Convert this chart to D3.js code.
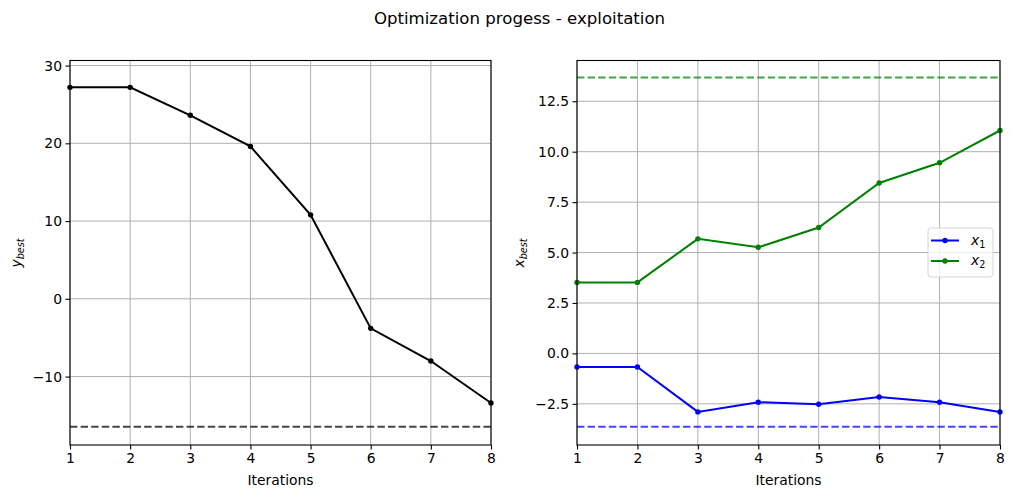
<!DOCTYPE html>
<html>
<head>
<meta charset="utf-8">
<script src="https://cdn.jsdelivr.net/npm/d3@7"></script>
<style>
  body { margin: 0; background: #fff; }
  text { font-family: "DejaVu Sans", sans-serif; }
</style>
</head>
<body>
<div id="chart"></div>
<script>
// data
const iterations = [1, 2, 3, 4, 5, 6, 7, 8];
const yBest = [27.2, 27.2, 23.6, 19.6, 10.8, -3.8, -8.0, -13.4];
const yTarget = -16.45;
const x1Best = [-0.67, -0.67, -2.9, -2.42, -2.52, -2.16, -2.42, -2.9];
const x2Best = [3.52, 3.52, 5.68, 5.26, 6.24, 8.45, 9.45, 11.05];
const x1Target = -3.63;
const x2Target = 13.68;
const leftTicks = [-10, 0, 10, 20, 30];
const rightTicks = [-2.5, 0, 2.5, 5, 7.5, 10, 12.5];

const W = 1013, H = 498;
const svg = d3.select("#chart").append("svg")
  .attr("width", W).attr("height", H);

svg.append("text")
  .attr("x", 519.5).attr("y", 24)
  .attr("text-anchor", "middle")
  .style("font-size", "16.6px")
  .text("Optimization progess - exploitation");

const plotTop = 60.5, plotBottom = 445;

function panel(x0, x1, yDomain, ticks, fmt) {
  const g = svg.append("g");
  const x = d3.scaleLinear().domain([1, 8]).range([x0, x1]);
  const y = d3.scaleLinear().domain(yDomain).range([plotBottom, plotTop]);

  // grid
  g.append("g").selectAll("line").data(iterations).enter().append("line")
    .attr("x1", d => x(d)).attr("x2", d => x(d))
    .attr("y1", plotTop).attr("y2", plotBottom)
    .attr("stroke", "#b0b0b0").attr("stroke-width", 1);
  g.append("g").selectAll("line").data(ticks).enter().append("line")
    .attr("x1", x0).attr("x2", x1)
    .attr("y1", d => y(d)).attr("y2", d => y(d))
    .attr("stroke", "#b0b0b0").attr("stroke-width", 1);

  // axes
  const ax = g.append("g")
    .attr("transform", `translate(0,${plotBottom})`)
    .call(d3.axisBottom(x).tickValues(iterations).tickSize(4.5).tickPadding(3.5).tickFormat(d3.format("d")));
  const ay = g.append("g")
    .attr("transform", `translate(${x0},0)`)
    .call(d3.axisLeft(y).tickValues(ticks).tickSize(4.5).tickPadding(3.5).tickFormat(fmt));
  [ax, ay].forEach(a => {
    a.select(".domain").remove();
    a.selectAll("text").style("font-size", "13.9px").attr("fill", "#000")
      .style("font-family", "DejaVu Sans, sans-serif");
    a.selectAll("line").attr("stroke", "#000").attr("stroke-width", 1.1);
  });

  g.append("text")
    .attr("x", (x0 + x1) / 2).attr("y", 485)
    .attr("text-anchor", "middle")
    .style("font-size", "13.9px")
    .text("Iterations");

  return {g, x, y, x0, x1};
}

function frame(p) {
  p.g.append("rect")
    .attr("x", p.x0).attr("y", plotTop)
    .attr("width", p.x1 - p.x0).attr("height", plotBottom - plotTop)
    .attr("fill", "none").attr("stroke", "#000").attr("stroke-width", 1.1);
}

function series(p, vals, color) {
  const line = d3.line().x((d, i) => p.x(iterations[i])).y(d => p.y(d));
  p.g.append("path").datum(vals)
    .attr("fill", "none").attr("stroke", color).attr("stroke-width", 2)
    .attr("d", line);
  p.g.append("g").selectAll("circle").data(vals).enter().append("circle")
    .attr("cx", (d, i) => p.x(iterations[i])).attr("cy", d => p.y(d))
    .attr("r", 2.7).attr("fill", color);
}

function hline(p, v, color) {
  p.g.append("line")
    .attr("x1", p.x0).attr("x2", p.x1)
    .attr("y1", p.y(v)).attr("y2", p.y(v))
    .attr("stroke", color).attr("stroke-width", 2)
    .attr("stroke-dasharray", "7.4,3.2").attr("opacity", 0.72);
}

// left panel
const L = panel(70, 491, [-18.8, 30.65], leftTicks, d3.format("d"));
hline(L, yTarget, "#000");
series(L, yBest, "#000");
frame(L);
L.g.selectAll(".tick text").text(function() { return this.textContent.replace("-", "\u2212"); });

const lab1 = L.g.append("text")
  .attr("transform", "translate(21,253) rotate(-90)")
  .attr("text-anchor", "middle")
  .style("font-size", "13.9px");
lab1.append("tspan").style("font-style", "italic").text("y");
lab1.append("tspan").attr("dy", 3).style("font-size", "9.7px").style("font-style", "italic").text("best");

// right panel
const R = panel(577, 1000, [-4.54, 14.52], rightTicks, d3.format(".1f"));
hline(R, x2Target, "green");
hline(R, x1Target, "blue");
series(R, x1Best, "blue");
series(R, x2Best, "green");
frame(R);
R.g.selectAll(".tick text").text(function() { return this.textContent.replace("-", "\u2212"); });

const lab2 = R.g.append("text")
  .attr("transform", "translate(524,253) rotate(-90)")
  .attr("text-anchor", "middle")
  .style("font-size", "13.9px");
lab2.append("tspan").style("font-style", "italic").text("x");
lab2.append("tspan").attr("dy", 3).style("font-size", "9.7px").style("font-style", "italic").text("best");

// legend
const leg = R.g.append("g").attr("transform", "translate(928,228)");
leg.append("rect").attr("width", 65).attr("height", 49).attr("rx", 3)
  .attr("fill", "#fff").attr("fill-opacity", 0.8)
  .attr("stroke", "#d5d5d5").attr("stroke-width", 1);
const legItems = [{name: "x", sub: "1", color: "blue"}, {name: "x", sub: "2", color: "green"}];
legItems.forEach((d, i) => {
  const yy = 12.5 + i * 20.5;
  leg.append("line").attr("x1", 3).attr("x2", 31).attr("y1", yy).attr("y2", yy)
    .attr("stroke", d.color).attr("stroke-width", 2);
  leg.append("circle").attr("cx", 17).attr("cy", yy).attr("r", 2.7).attr("fill", d.color);
  const t = leg.append("text").attr("x", 43).attr("y", yy + 4).style("font-size", "13.9px");
  t.append("tspan").style("font-style", "italic").text(d.name);
  t.append("tspan").attr("dy", 3).style("font-size", "9.7px").text(d.sub);
});
</script>
</body>
</html>
